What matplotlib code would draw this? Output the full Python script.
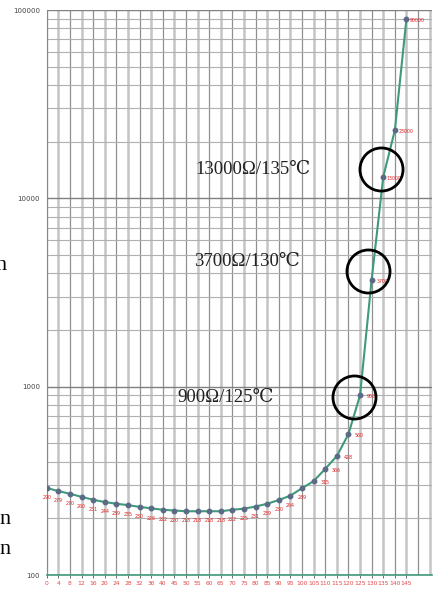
import numpy as np
import matplotlib
matplotlib.use('Agg')
import matplotlib.pyplot as plt
from matplotlib import transforms

temps = [0, 4, 8, 12, 16, 20, 24, 28, 32, 36, 40, 45, 50, 55, 60, 65,
         70, 75, 80, 85, 90, 95, 100, 105, 110, 115, 120, 125, 130, 135, 140, 145]
res = [290, 279, 270, 260, 251, 244, 239, 235, 230, 226, 222, 220, 218, 218, 218, 218,
       222, 225, 231, 239, 250, 264, 289, 315, 366, 428, 560, 900, 3700, 13000, 23000, 90000]
yticks = [100, 1000, 10000, 100000]
notes = [(135, '13000Ω/135℃'), (130, '3700Ω/130℃'), (125, '900Ω/125℃')]

fig = plt.figure(figsize=(4.36, 5.90), dpi=100)
ax = fig.add_axes([46.7/436, 1-575/590, (432-46.7)/436, (575-10)/590])

x = np.arange(len(temps))
ax.set_yscale('log')
ax.set_ylim(100, 100000)
ax.set_xlim(0, 33.2)

# grid
for i in range(34):
    if i % 2:
        ax.axvline(i, color='#c4c4c4', lw=1.8, zorder=0)
    else:
        ax.axvline(i, color='#909090', lw=0.9, zorder=0)
for d in [100, 1000, 10000]:
    for m in range(2, 10):
        ax.axhline(d*m, color='#b0b0b0', lw=0.8, zorder=0)
for v in yticks:
    ax.axhline(v, color='#808080', lw=1.0, zorder=0)

ax.plot(x, res, color='#3f9a7c', lw=1.5, zorder=2)
ax.plot(x, res, 'o', ms=3.2, color='#5b6a85', zorder=3)

for xi, r in zip(x, res):
    if r < 300:
        off = (0, -7)
    else:
        off = (8, -1)
    ax.annotate('%g' % r, (xi, r), xytext=off, textcoords='offset points',
                ha='center', va='center', fontsize=3.4, color='#e02020')

# circled points and notes
circ_off = {135: (-1.5, 6), 130: (-2.5, 6), 125: (-4.5, -1.5)}
text_pos = {135: (253, 170), 130: (247, 262), 125: (226, 397)}
for t, s in notes:
    i = temps.index(t)
    tr = transforms.offset_copy(ax.transData, fig=fig, x=circ_off[t][0], y=circ_off[t][1], units='points')
    ax.plot([i], [res[i]], 'o', ms=31, mfc='none', mec='black', mew=2, transform=tr, zorder=4)
    px, py = text_pos[t]
    fig.text(px/436, 1-py/590, s, ha='center', va='center', fontsize=13.5,
             family=['Liberation Serif', 'DejaVu Serif'], color='#222222')

ax.set_xticks(x)
ax.set_xticklabels([str(t) for t in temps], fontsize=4.3, color='#e04848')
ax.set_yticks(yticks)
ax.set_yticklabels([str(v) for v in yticks], fontsize=5, color='#444444')
ax.yaxis.set_minor_locator(matplotlib.ticker.NullLocator())
ax.tick_params(axis='x', length=2.5, width=0.6, color='#555555', pad=2)
ax.tick_params(axis='y', length=0, pad=5)

for sp in ['top', 'right']:
    ax.spines[sp].set_visible(False)
ax.spines['left'].set_color('#888888')
ax.spines['bottom'].set_color('#3f9a7c')
ax.spines['bottom'].set_linewidth(1.2)

# cut-off text at the left edge of the screenshot
fig.text(-5/436, 1-266/590, 'n', fontsize=16, family='Liberation Serif', va='center')
fig.text(-1/436, 1-520/590, 'n', fontsize=16, family='Liberation Serif', va='center')
fig.text(-1/436, 1-550/590, 'n', fontsize=16, family='Liberation Serif', va='center')

fig.savefig('out.png', dpi=100)
